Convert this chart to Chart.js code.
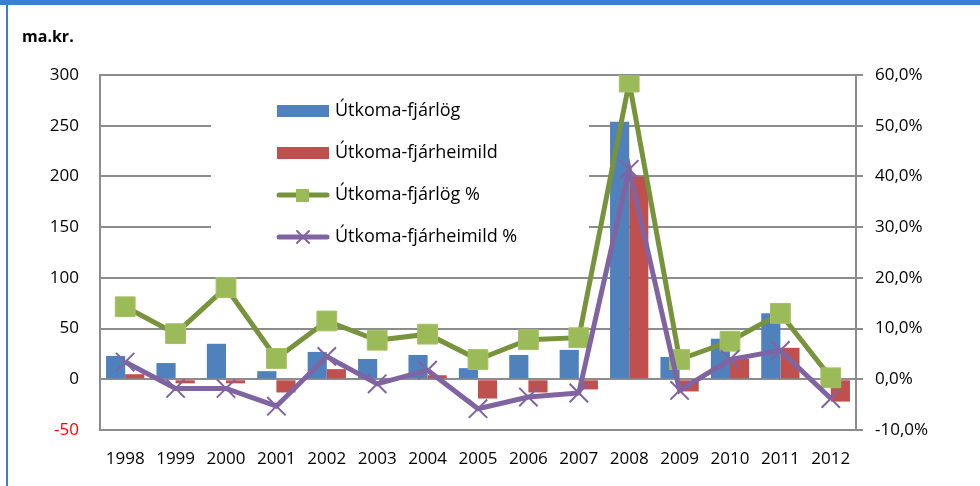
<!DOCTYPE html>
<html>
<head>
<meta charset="utf-8">
<script src="https://cdn.jsdelivr.net/npm/chart.js@4"></script>
<style>
  html, body { margin: 0; padding: 0; background: #fff; }
  #wrap { position: relative; width: 980px; height: 486px; overflow: hidden; }
  #band { position: absolute; left: 0; top: 0; width: 980px; height: 5px; background: #3a7fd3; }
  #edge { position: absolute; left: 6px; top: 0; width: 2px; height: 486px; background: #3a7fd3; }
  #unit { position: absolute; left: 22px; top: 25px; font: bold 16px "Open Sans", sans-serif; color: #000; }
  canvas { position: absolute; left: 0; top: 0; }
</style>
</head>
<body>
<div id="wrap">
  <canvas id="chart" width="980" height="486"></canvas>
  <div id="band"></div>
  <div id="edge"></div>
  <div id="unit">ma.kr.</div>
</div>
<script>
const years = ['1998', '1999', '2000', '2001', '2002', '2003', '2004', '2005', '2006', '2007', '2008', '2009', '2010', '2011', '2012'];
const utkomaFjarlog = [23, 16, 35, 8, 27, 20, 24, 11, 24, 29, 254, 22, 40, 65, 1];
const utkomaFjarheimild = [5, -4, -4, -13, 10, 0, 4, -19, -13, -10, 200, -12, 20, 31, -22];
const utkomaFjarlogPct = [14.3, 9.0, 18.1, 4.1, 11.5, 7.7, 8.9, 3.9, 7.8, 8.2, 58.6, 3.9, 7.5, 13.0, 0.3];
const utkomaFjarheimildPct = [3.4, -1.8, -1.8, -5.3, 4.5, -0.9, 1.8, -5.8, -3.5, -2.7, 41.4, -2.2, 3.9, 5.7, -3.8];
const leftTicks = [-50, 0, 50, 100, 150, 200, 250, 300];
const rightTicks = [-10, 0, 10, 20, 30, 40, 50, 60];

const FONT = '"Open Sans", sans-serif';
const GRID = '#8c8c8c';

// legend sits inside the plot on a white box, like the original
const boxLegend = {
    id: 'boxLegend',
    beforeDatasetsDraw(chart) {
        const ctx = chart.ctx;
        ctx.save();
        ctx.fillStyle = '#fff';
        ctx.fillRect(211, 88, 378, 172);
        const rows = [111, 153, 195, 237];
        chart.data.datasets.forEach((ds, i) => {
            const y = rows[i];
            if (ds.type === 'bar') {
                ctx.fillStyle = ds.backgroundColor;
                ctx.fillRect(277, y - 6, 52, 12);
            } else {
                ctx.strokeStyle = ds.borderColor;
                ctx.lineWidth = ds.borderWidth;
                ctx.lineCap = 'round';
                ctx.beginPath();
                ctx.moveTo(279, y);
                ctx.lineTo(327, y);
                ctx.stroke();
                if (ds.pointStyle === 'rect') {
                    ctx.fillStyle = ds.pointBackgroundColor;
                    ctx.fillRect(296, y - 6, 13, 13);
                } else {
                    ctx.strokeStyle = ds.pointBorderColor;
                    ctx.lineWidth = 2;
                    ctx.beginPath();
                    ctx.moveTo(297, y - 6); ctx.lineTo(309, y + 6);
                    ctx.moveTo(309, y - 6); ctx.lineTo(297, y + 6);
                    ctx.stroke();
                }
            }
            ctx.fillStyle = '#000';
            ctx.font = '18px ' + FONT;
            ctx.textBaseline = 'middle';
            ctx.fillText(ds.label, 335, y);
        });
        ctx.restore();
    }
};

new Chart(document.getElementById('chart'), {
    data: {
        labels: years,
        datasets: [
            { type: 'bar', label: 'Útkoma-fjárlög', data: utkomaFjarlog, backgroundColor: '#4f81bd', yAxisID: 'y', order: 2 },
            { type: 'bar', label: 'Útkoma-fjárheimild', data: utkomaFjarheimild, backgroundColor: '#c0504d', yAxisID: 'y', order: 3 },
            {
                type: 'line', label: 'Útkoma-fjárlög %', data: utkomaFjarlogPct, yAxisID: 'y1', order: 1,
                borderColor: '#77933c', borderWidth: 5, pointStyle: 'rect', pointRadius: 14,
                pointBackgroundColor: '#9bbb59', pointBorderColor: '#a5c266', pointBorderWidth: 1
            },
            {
                type: 'line', label: 'Útkoma-fjárheimild %', data: utkomaFjarheimildPct, yAxisID: 'y1', order: 0,
                borderColor: '#8064a2', borderWidth: 5, pointStyle: 'crossRot', pointRadius: 13,
                pointBackgroundColor: '#8064a2', pointBorderColor: '#8064a2', pointBorderWidth: 2
            }
        ]
    },
    options: {
        responsive: false,
        animation: false,
        datasets: { bar: { categoryPercentage: 0.76, barPercentage: 1.0 } },
        layout: { padding: { left: 0, right: 0, top: 75, bottom: 0 } },
        plugins: { legend: { display: false }, tooltip: { enabled: false } },
        scales: {
            x: {
                grid: { display: false, drawTicks: false },
                border: { display: true, color: GRID, width: 2 },
                ticks: { color: '#000', font: { family: FONT, size: 17 }, padding: 19, maxRotation: 0 },
                afterFit(s) { s.height = 56; }
            },
            y: {
                position: 'left',
                min: -50, max: 300,
                afterBuildTicks(s) { s.ticks = leftTicks.map(v => ({ value: v })); },
                grid: { color: GRID, lineWidth: 2, drawTicks: false },
                border: { display: true, color: GRID, width: 2 },
                ticks: {
                    font: { family: FONT, size: 17 },
                    padding: 21,
                    color: c => (c.tick && c.tick.value === -50) ? '#ff0000' : '#000'
                },
                afterFit(s) { s.width = 100; }
            },
            y1: {
                position: 'right',
                min: -10, max: 60,
                afterBuildTicks(s) { s.ticks = rightTicks.map(v => ({ value: v })); },
                grid: { drawOnChartArea: false, color: GRID, lineWidth: 2, tickLength: 7 },
                border: { display: true, color: GRID, width: 2 },
                ticks: {
                    color: '#000',
                    font: { family: FONT, size: 17 },
                    padding: 12,
                    callback: v => v.toFixed(1).replace('.', ',') + '%'
                },
                afterFit(s) { s.width = 124; }
            }
        }
    },
    plugins: [boxLegend]
});
</script>
</body>
</html>
